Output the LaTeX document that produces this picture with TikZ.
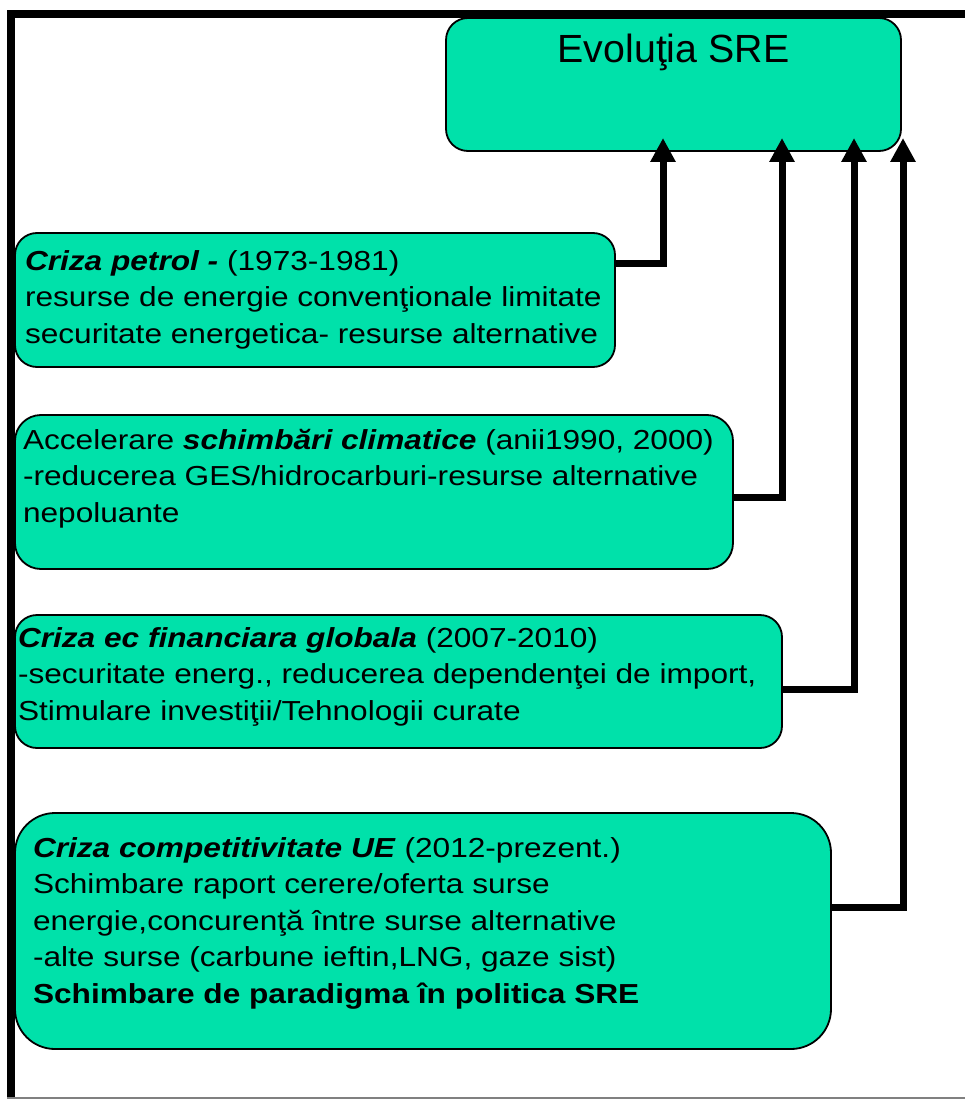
\documentclass[tikz,border=0pt]{standalone}
\usepackage{fontspec}
\setmainfont{Liberation Sans}
\newfontfamily\boxfont[FakeStretch=1.15]{Liberation Sans}
\usetikzlibrary{arrows.meta}
\definecolor{boxgreen}{RGB}{0,225,170}
\definecolor{framegray}{RGB}{128,128,128}
\begin{document}
\begin{tikzpicture}[x=1pt,y=-1pt,
  panel/.style={draw=black, line width=1.8pt, fill=boxgreen, anchor=north west,
    inner sep=0pt, outer sep=0pt},
  txt/.style={anchor=base west, inner sep=0pt, outer sep=0pt,
    font=\boxfont\fontsize{27.5}{36.5}\selectfont},
  conn/.style={line width=7pt, -{Triangle[length=24pt,width=24pt]}}]
\useasboundingbox (0,0) rectangle (965,1099);
% frame
\draw[line width=8pt] (11,1099) -- (11,14) -- (965,14);
\draw[framegray, line width=2pt] (7,1098) -- (965,1098);
% boxes
\node[panel, rounded corners=22pt, minimum width=455pt, minimum height=133pt] (top) at (446,18) {};
\node[panel, rounded corners=22pt, minimum width=600pt, minimum height=134pt] (b1) at (15,233) {};
\node[panel, rounded corners=26pt, minimum width=718pt, minimum height=154pt] (b2) at (15,415) {};
\node[panel, rounded corners=22pt, minimum width=767pt, minimum height=133pt] (b3) at (15,615) {};
\node[panel, rounded corners=40pt, minimum width=816pt, minimum height=236pt] (b4) at (15,813) {};
% title
\node[anchor=base, inner sep=0pt, font=\fontsize{39.3}{45}\selectfont] (title) at (top.north |- 0,63) {Evoluţia SRE};
% box 1 text
\node[txt] (t1a) at (25,270) {\textbf{\textit{Criza petrol -}} (1973-1981)};
\node[txt] (t1b) at (25,306.5) {resurse de energie convenţionale limitate};
\node[txt] (t1c) at (25,343) {securitate energetica- resurse alternative};
% box 2 text
\node[txt] (t2a) at (23,449) {Accelerare \textbf{\textit{schimbări climatice}} (anii1990, 2000)};
\node[txt] (t2b) at (23,485.5) {-reducerea GES/hidrocarburi-resurse alternative};
\node[txt] (t2c) at (23,522) {nepoluante};
% box 3 text
\node[txt] (t3a) at (18,647) {\textbf{\textit{Criza ec financiara globala}} (2007-2010)};
\node[txt] (t3b) at (18,683.5) {-securitate energ., reducerea dependenţei de import,};
\node[txt] (t3c) at (18,720) {Stimulare investiţii/Tehnologii curate};
% box 4 text
\node[txt] (t4a) at (33,857) {\textbf{\textit{Criza competitivitate UE}} (2012-prezent.)};
\node[txt] (t4b) at (33,893.5) {Schimbare raport cerere/oferta surse};
\node[txt] (t4c) at (33,930) {energie,concurenţă între surse alternative};
\node[txt] (t4d) at (33,966.5) {-alte surse (carbune ieftin,LNG, gaze sist)};
\node[txt] (t4e) at (33,1003) {\textbf{Schimbare de paradigma în politica SRE}};
% connectors
\draw[conn] (b1.east |- 0,263) -| ([yshift=13pt]top.south -| 663,0);
\draw[conn] (b2.east |- 0,497) -| ([yshift=13pt]top.south -| 782,0);
\draw[conn] (b3.east |- 0,689) -| ([yshift=13pt]top.south -| 854,0);
\draw[conn] (b4.east |- 0,907) -| ([yshift=13pt]top.south -| 903,0);
\end{tikzpicture}
\end{document}
